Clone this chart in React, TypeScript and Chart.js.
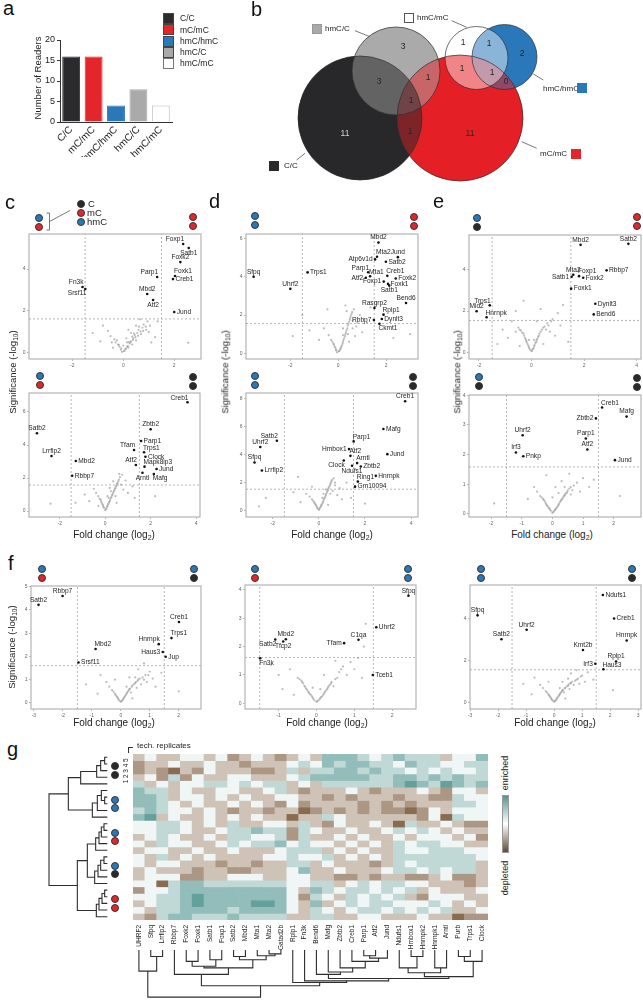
import React, { useEffect, useRef } from 'react';
import { Chart, registerables } from 'chart.js';
Chart.register(...registerables);

const FONT = "'Liberation Sans', Arial, Helvetica, sans-serif";

// ---------------- DATA ----------------
// panel a
const barCategories = ['C/C', 'mC/mC', 'hmC/hmC', 'hmC/C', 'hmC/mC'];
const barValues = [16, 16, 4, 8, 4];
const barTicks = [0, 5, 10, 15, 20];

// panel b (Venn) – region counts
const vennSetNames = ['C/C', 'hmC/C', 'mC/mC', 'hmC/mC', 'hmC/hmC'];
const vennRegionCounts = [3, 3, 1, 1, 1, 11, 11, 1, 1, 2, 1, 1, 0];

// volcano thresholds
const THR_X = 1.5;

// panel c – top
const cTopPts: [string, number, number][] = [['Foxp1', 2.35, 5.19], ['Satb1', 2.57, 5.0], ['Foxk2', 2.24, 4.33], ['Foxk1', 2.03, 3.67], ['Creb1', 1.95, 3.52], ['Parp1', 1.33, 3.62], ['Mbd2', 0.94, 2.81], ['Atf2', 1.17, 2.52], ['Jund', 2.0, 1.95], ['Fn3k', -1.6, 3.14], ['Srsf11', -1.49, 3.05]];
const cTopGray = [-0.05, 0.05, 0.05, 0.1, 0.1, 0.2, -0.1, 0.15, 0.15, 0.3, -0.15, 0.3, 0.2, 0.25, 0.25, 0.45, -0.2, 0.4, 0.3, 0.55, 0.35, 0.4, 0.4, 0.7, -0.3, 0.5, 0.45, 0.85, 0.5, 0.6, 0.55, 0.95, -0.35, 0.65, 0.6, 1.1, 0.7, 0.9, 0.75, 1.2, 0.8, 1.35, -0.5, 0.8, 0.9, 1.1, 0.95, 1.5, 1.05, 1.3, -0.6, 1.05, 0.3, 0.95, 0.5, 1.3, -0.9, 0.55, -1.2, 0.95, 1.25, 0.75, 1.35, 1.5, 0.65, 1.6, 2.55, 0.48, -0.8, 1.3, 0.12, 0.7, 0.2, 1.1, 1.1, 0.5, -0.4, 0.25, 0.0, 0.35,
  0.02, 0.08, 0.08, 0.18, 0.18, 0.33, 0.28, 0.5, 0.38, 0.62, 0.48, 0.75, 0.58, 0.82, 0.68, 1.02, 0.78, 1.05, 0.88, 1.25, -0.08, 0.22, -0.18, 0.38, -0.25, 0.6, -0.45, 0.5, 0.22, 0.52, 0.42, 0.92, 0.62, 1.25, 1.0, 1.0, 0.15, 0.5, 0.35, 0.78];
// panel c – bottom
const cBotPts: [string, number, number][] = [['Creb1', 3.62, 6.59], ['Zbtb2', 2.0, 4.95], ['Parp1', 1.58, 4.24], ['Tfam', 1.27, 3.7], ['Trps1', 1.71, 3.56], ['Clock', 1.77, 3.29], ['Atf2', 1.35, 2.79], ['Mapk8ip3', 1.73, 2.69], ['Jund', 2.26, 2.55], ['Arntl', 1.64, 2.32], ['Mafg', 2.14, 2.24], ['Satb2', -3.0, 4.71], ['Lrrfip2', -2.36, 3.33], ['Mbd2', -1.29, 3.03], ['Rbbp7', -1.45, 2.14]];
const cBotGray = [0, 0.05, 0.05, 0.15, -0.05, 0.2, 0.1, 0.3, -0.1, 0.35, 0.15, 0.45, -0.15, 0.5, 0.2, 0.6, 0.25, 0.8, -0.2, 0.7, 0.3, 0.95, 0.35, 1.1, -0.3, 0.9, 0.4, 1.25, 0.45, 1.4, 0.5, 1.55, -0.4, 1.1, 0.55, 1.7, 0.6, 1.9, 0.65, 2.05, 0.7, 1.6, 0.75, 2.2, -0.5, 1.35, 0.8, 1.3, 0.9, 1.85, 1.0, 1.1, -0.7, 0.6, -0.9, 1.0, 0.2, 1.4, 0.35, 1.8, -1.3, 0.5, -2.4, 0.45, 1.3, 0.8, 1.2, 1.5, 2.2, 0.9, 0.1, 0.9, -0.3, 0.3, 0.5, 0.5,
  0.02, 0.1, 0.08, 0.25, 0.12, 0.4, 0.18, 0.55, 0.22, 0.7, 0.28, 0.85, 0.32, 1.0, 0.38, 1.2, 0.42, 1.35, 0.48, 1.5, 0.52, 1.65, 0.58, 1.8, -0.08, 0.25, -0.12, 0.4, -0.18, 0.6, -0.25, 0.75, 0.15, 0.8, 0.25, 1.2, 0.45, 0.9, 0.62, 2.25];
// panel d – top
const dTopPts: [string, number, number][] = [['Mbd2', 1.68, 5.79], ['Mta2', 1.62, 5.05], ['Atp6v1d', 1.54, 4.91], ['Jund', 2.49, 5.03], ['Satb2', 1.99, 4.79], ['Parp1', 1.25, 4.24], ['Atf2', 1.15, 3.95], ['Mta1', 1.33, 4.03], ['Creb1', 2.05, 4.05], ['Foxk2', 2.4, 3.91], ['Foxp1', 1.9, 3.75], ['Foxk1', 2.08, 3.63], ['Satb1', 2.13, 3.54], ['Bend6', 2.83, 2.63], ['Rasgrp2', 1.51, 2.37], ['Rplp1', 1.89, 2.02], ['Dynlt3', 1.82, 1.79], ['Rbbp7', 1.49, 1.74], ['Ckmt1', 1.72, 1.54], ['Sfpq', -3.53, 4.0], ['Trps1', -1.28, 4.23], ['Uhrf2', -2.0, 3.37]];
const dTopGray = [-0.05, 0.05, 0.05, 0.12, 0.1, 0.25, -0.1, 0.2, 0.15, 0.4, 0.2, 0.6, -0.15, 0.35, 0.25, 0.8, 0.3, 1.0, -0.2, 0.5, 0.35, 1.2, 0.4, 1.45, 0.45, 1.65, -0.3, 0.7, 0.5, 1.85, 0.55, 2.05, 0.6, 1.3, 0.65, 2.3, 0.3, 2.5, 0.35, 2.2, 0.7, 0.9, -0.4, 0.95, 0.8, 1.6, 0.9, 2.0, 1.0, 1.1, -0.6, 1.3, -0.8, 0.7, 1.2, 1.6, 1.35, 2.4, -1.2, 1.2, -1.9, 0.9, 2.3, 0.8, 3.0, 1.0, 0.2, 1.3, 0.45, 0.6, -1.5, 2.0, -0.45, 2.3,
  0.02, 0.1, 0.08, 0.2, 0.12, 0.32, 0.18, 0.5, 0.22, 0.7, 0.28, 0.9, 0.32, 1.1, 0.38, 1.3, 0.42, 1.55, 0.48, 1.75, 0.52, 1.95, 0.58, 2.15, -0.08, 0.15, -0.12, 0.3, -0.18, 0.45, -0.25, 0.6, 0.2, 0.95, 0.4, 1.0, 0.6, 1.7, 0.75, 1.4];
// panel d – bottom
const dBotPts: [string, number, number][] = [['Creb1', 3.74, 7.81], ['Mafg', 2.8, 5.83], ['Parp1', 1.51, 4.94], ['Hmbox1', 1.31, 4.39], ['Atf2', 1.37, 3.91], ['Jund', 2.97, 4.03], ['Arntl', 1.66, 3.39], ['Clock', 1.08, 3.58], ['Zbtb2', 1.82, 3.15], ['Ndufs1', 1.44, 3.2], ['Hnrnpk', 2.47, 2.48], ['Ring1', 1.69, 2.07], ['Gm10094', 1.57, 1.71], ['Satb2', -1.82, 4.99], ['Uhrf2', -2.54, 4.54], ['Sfpq', -2.79, 3.43], ['Lrrfip2', -2.47, 2.86]];
const dBotGray = [0, 0.05, 0.05, 0.2, -0.05, 0.15, 0.1, 0.35, -0.1, 0.3, 0.15, 0.5, -0.15, 0.45, 0.2, 0.7, 0.25, 0.9, -0.2, 0.6, 0.3, 1.1, 0.35, 1.3, -0.3, 0.8, 0.4, 1.5, 0.45, 1.7, -0.4, 1.0, 0.5, 1.9, 0.55, 2.1, 0.6, 1.4, 0.65, 2.3, 0.7, 1.8, -0.55, 1.2, 0.8, 1.1, 0.9, 1.6, 1.0, 0.8, -0.8, 0.6, -1.1, 1.3, -0.9, 2.4, 0.2, 1.2, 1.2, 2.0, 1.4, 0.9, -2.3, 0.9, -2.6, 0.3, 2.0, 0.5, 0.4, 0.4, -0.3, 1.7,
  0.02, 0.1, 0.08, 0.28, 0.12, 0.42, 0.18, 0.6, 0.22, 0.8, 0.28, 1.0, 0.32, 1.2, 0.38, 1.4, 0.42, 1.6, 0.48, 1.8, 0.52, 2.0, 0.58, 2.2, -0.08, 0.2, -0.12, 0.38, -0.18, 0.52, -0.25, 0.7, 0.15, 0.9, 0.3, 1.5, 0.5, 1.2, 0.7, 2.0];
// panel e – top
const eTopPts: [string, number, number][] = [['Mbd2', 1.87, 5.22], ['Satb2', 3.69, 5.27], ['Mta2', 1.59, 3.77], ['Satb1', 1.53, 3.67], ['Foxp1', 1.81, 3.7], ['Foxk2', 1.97, 3.62], ['Rbbp7', 2.86, 3.98], ['Foxk1', 1.51, 3.09], ['Dynlt3', 2.43, 2.36], ['Bend6', 2.37, 1.84], ['Trps1', -1.59, 2.28], ['Mid2', -2.09, 1.99], ['Hnrnpk', -1.71, 1.7]];
const eTopGray = [0, 0.05, 0.05, 0.15, -0.05, 0.12, 0.1, 0.3, -0.1, 0.25, 0.15, 0.45, -0.15, 0.4, -0.2, 0.55, 0.2, 0.6, -0.25, 0.7, 0.25, 0.75, -0.3, 0.9, 0.3, 0.9, -0.4, 1.05, 0.4, 1.1, -0.5, 1.2, 0.5, 1.25, -0.6, 1.0, 0.6, 1.4, 0.7, 1.0, 0.8, 1.6, -0.75, 1.5, 0.9, 0.8, 1.0, 1.9, 1.1, 1.3, -0.9, 0.7, -1.1, 1.1, -0.6, 2.0, 0.35, 2.1, 1.2, 2.3, -0.3, 2.5, 1.4, 0.5, 0.45, 0.4, -0.45, 0.3, 0.2, 1.5, -1.3, 0.4,
  0.02, 0.08, 0.08, 0.2, 0.12, 0.35, 0.18, 0.5, 0.22, 0.65, 0.28, 0.8, 0.35, 1.0, -0.08, 0.18, -0.12, 0.32, -0.18, 0.48, -0.22, 0.62, -0.28, 0.8, -0.35, 0.95, 0.45, 1.2, 0.55, 1.1, -0.45, 1.1, 0.1, 0.6, -0.1, 0.6, 0.65, 1.3, 0.75, 1.5];
// panel e – bottom
const eBotPts: [string, number, number][] = [['Creb1', 1.62, 3.59], ['Mafg', 2.42, 3.28], ['Zbtb2', 1.42, 3.22], ['Parp1', 1.09, 2.54], ['Atf2', 1.14, 2.17], ['Jund', 2.04, 1.81], ['Uhrf2', -0.97, 2.65], ['Irf3', -1.19, 2.07], ['Pnkp', -0.95, 1.94]];
const eBotGray = [0, 0.03, 0.05, 0.08, -0.05, 0.1, 0.1, 0.15, -0.1, 0.18, 0.15, 0.22, -0.15, 0.25, 0.2, 0.3, -0.2, 0.32, 0.25, 0.4, -0.25, 0.42, 0.3, 0.48, -0.3, 0.5, 0.35, 0.55, 0.4, 0.62, -0.4, 0.6, 0.45, 0.7, 0.5, 0.78, -0.5, 0.75, 0.55, 0.85, 0.6, 0.65, 0.7, 0.95, -0.6, 0.9, 0.8, 1.05, 0.9, 0.75, 1.0, 1.2, -0.8, 0.5, 0.1, 0.9, 0.3, 1.1, 0.55, 1.35, 1.2, 0.9, 1.35, 1.15, -1.9, 0.35, 2.2, 0.6, -0.2, 1.3, 0.0, 0.55,
  0.02, 0.05, 0.08, 0.12, 0.12, 0.18, 0.18, 0.26, 0.22, 0.34, 0.28, 0.44, 0.32, 0.5, 0.38, 0.6, 0.42, 0.66, 0.48, 0.72, -0.08, 0.14, -0.12, 0.2, -0.18, 0.28, -0.22, 0.36, -0.28, 0.46, -0.35, 0.55, 0.6, 0.9, 0.65, 0.8, 0.2, 0.7, 0.4, 0.9];
// panel f – left
const fLPts: [string, number, number][] = [['Rbbp7', -2.01, 4.6], ['Satb2', -2.84, 4.22], ['Mbd2', -0.87, 2.32], ['Srsf11', -1.46, 1.74], ['Creb1', 2.01, 3.48], ['Trps1', 1.75, 2.79], ['Hnrnpk', 1.31, 2.53], ['Haus3', 1.45, 2.19], ['Jup', 1.55, 1.99]];
const fLGray = [0, 0.05, 0.05, 0.1, -0.05, 0.1, 0.1, 0.2, -0.1, 0.2, 0.15, 0.3, -0.15, 0.3, 0.2, 0.4, 0.25, 0.5, -0.2, 0.4, 0.3, 0.6, 0.35, 0.45, 0.4, 0.75, -0.3, 0.55, 0.5, 0.85, 0.55, 0.65, 0.6, 1.0, 0.7, 0.8, 0.75, 1.1, -0.4, 0.7, 0.85, 1.2, 0.9, 0.9, 1.0, 1.35, 1.1, 1.05, -0.5, 0.9, 1.2, 0.7, 0.3, 1.1, 0.6, 1.45, -0.8, 0.4, -1.2, 0.8, 1.4, 1.3, 0.8, 1.7, -0.2, 1.0, 2.0, 0.5, 0.4, 0.2, -0.7, 1.2,
  0.02, 0.08, 0.08, 0.15, 0.12, 0.25, 0.18, 0.35, 0.22, 0.45, 0.28, 0.55, 0.32, 0.62, 0.38, 0.7, 0.45, 0.8, 0.52, 0.9, 0.58, 0.95, 0.65, 1.05, -0.08, 0.15, -0.12, 0.25, -0.18, 0.35, -0.25, 0.48, 0.8, 1.0, 0.95, 1.2, 0.2, 0.7, 0.5, 1.1];
// panel f – middle
const fMPts: [string, number, number][] = [['Sfpq', 2.43, 3.79], ['Uhrf2', 1.58, 2.68], ['C1qa', 1.11, 2.24], ['Tfam', 0.73, 2.12], ['Satb2', -1.09, 2.25], ['Mbd2', -0.81, 2.26], ['Tfcp2', -0.88, 2.18], ['Fn3k', -1.49, 1.59], ['Tceb1', 1.49, 1.0]];
const fMGray = [0, 0.05, 0.05, 0.1, -0.05, 0.1, 0.1, 0.18, -0.1, 0.2, 0.15, 0.25, -0.15, 0.3, 0.2, 0.35, -0.2, 0.38, 0.25, 0.45, -0.25, 0.48, 0.3, 0.55, -0.3, 0.58, 0.35, 0.65, -0.35, 0.7, 0.4, 0.75, -0.4, 0.8, 0.45, 0.6, -0.5, 0.9, 0.55, 0.9, 0.6, 1.1, 0.7, 1.3, 0.8, 1.0, 0.9, 1.45, 1.0, 1.2, 1.1, 1.6, 1.2, 0.9, -0.7, 1.2, -0.9, 0.5, -1.2, 1.35, -1.0, 1.0, 0.2, 1.0, 1.25, 2.0, 1.3, 2.8, 0.5, 1.5, -0.6, 0.3,
  0.02, 0.08, 0.08, 0.14, 0.12, 0.22, 0.18, 0.3, 0.22, 0.4, 0.28, 0.5, 0.32, 0.6, 0.38, 0.7, -0.08, 0.15, -0.12, 0.25, -0.18, 0.33, -0.22, 0.42, -0.28, 0.52, -0.32, 0.62, -0.38, 0.75, -0.45, 0.85, 0.1, 0.5, -0.1, 0.55, 0.5, 0.85, 0.65, 1.2];
// panel f – right
const fRPts: [string, number, number][] = [['Ndufs1', 1.74, 5.14], ['Sfpq', -2.73, 4.17], ['Creb1', 2.14, 4.02], ['Uhrf2', -0.98, 3.48], ['Satb2', -1.88, 3.03], ['Hnrnpk', 2.59, 2.97], ['Kmt2b', 1.03, 2.52], ['Rplp1', 2.21, 1.97], ['Irf3', 1.47, 1.86], ['Haus3', 1.76, 1.6]];
const fRGray = [0, 0.05, 0.05, 0.1, -0.05, 0.1, 0.1, 0.2, -0.1, 0.2, 0.15, 0.3, -0.15, 0.3, 0.2, 0.4, 0.25, 0.5, -0.2, 0.4, 0.3, 0.6, 0.35, 0.5, 0.4, 0.7, -0.3, 0.55, 0.5, 0.8, 0.55, 0.65, 0.6, 0.95, 0.7, 0.85, 0.75, 1.05, -0.4, 0.7, 0.85, 1.15, 0.9, 0.9, 1.0, 1.3, 1.1, 1.0, -0.5, 0.85, 1.2, 1.45, 0.3, 1.0, 0.6, 1.4, -0.8, 0.4, -1.1, 0.9, 1.4, 1.1, 0.8, 1.55, -0.2, 1.0, 2.1, 0.6, 0.4, 0.2, -0.7, 1.2,
  0.02, 0.08, 0.08, 0.15, 0.12, 0.25, 0.18, 0.35, 0.22, 0.45, 0.28, 0.55, 0.32, 0.62, 0.38, 0.7, 0.45, 0.78, 0.52, 0.88, 0.58, 0.92, 0.65, 1.0, -0.08, 0.15, -0.12, 0.25, -0.18, 0.35, -0.25, 0.48, 0.8, 1.1, 0.95, 1.25, 0.2, 0.7, 0.5, 1.15];

// panel g – heatmap
const geneLabels = ['UHRF2', 'Sfpq', 'Lrrfip2', 'Rbbp7', 'Foxk2', 'Foxk1', 'Satb1', 'Foxp1', 'Satb2', 'Mbd2', 'Mta1', 'Mta2', 'Gatad2b', 'Rplp1', 'Fn3k', 'Bend6', 'Mafg', 'Zbtb2', 'Creb1', 'Parp1', 'Atf2', 'Jund', 'Ndufs1', 'Hmbox1', 'Hnrnpk2', 'Hnrnpk1', 'Arntl', 'Purb', 'Trps1', 'Clock'];
const heatRows = [
  [-1, 0, -1, -1, 0, 0, -1, 0, -2, -1, 0, -1, -2, -1, 0, -1, 2, 2, 2, 1, 0, 1, 2, 1, 1, 1, -1, 0, 0, 2],
  [-2, -1, -1, 0, -1, -1, 0, -1, -1, -2, -1, -1, -1, 0, 1, 0, 2, 1, 2, 2, 1, 1, 0, 2, 1, 1, 0, 0, 1, 1],
  [-2, -1, -2, -3, -1, -2, 0, -1, -1, -1, -2, -2, -1, 1, -1, 1, 1, 2, 2, 1, 2, 1, 1, 0, 1, 0, 1, 0, 0, 1],
  [-1, 0, -2, 1, -2, 0, -1, -1, 0, 0, -1, -1, -1, 0, 1, 2, 2, 2, 2, 2, 1, 1, 2, 2, 1, 2, 1, 2, 1, 1],
  [1, -1, 0, -1, 0, 0, 1, 1, 0, 1, 0, 1, 1, -1, 0, -1, 1, 1, 1, 1, 1, 1, 2, 3, 2, 1, 3, 2, 1, 2],
  [2, 1, 1, -1, 0, -1, -1, 0, 0, -1, -1, 0, 1, -1, -2, -1, -1, -1, 0, -1, -2, -1, -1, -1, 0, -1, -2, 0, 0, -1],
  [2, 2, 1, -1, 0, 0, -1, 0, -1, 0, -1, -1, 0, 0, -1, -1, -2, -1, -2, -1, -1, -1, -2, -1, -1, -2, -2, 1, 0, 0],
  [2, 2, 1, 0, -1, 0, -1, -1, 0, -1, 0, -1, -2, 0, -2, -1, -1, -1, -1, -2, -1, -2, -1, -2, -1, -1, -1, 1, 1, 0],
  [1, 2, 1, 0, 0, -1, 0, -1, -2, -1, -1, -2, -1, -1, -3, -2, -1, -2, -1, -2, -1, -2, -2, -3, -2, 0, -1, 0, 0, 0],
  [2, 3, -1, 0, -1, -1, 0, -1, 0, -1, 0, -1, -1, -3, -1, -1, 1, 0, -1, -1, -1, -1, -1, -1, -2, 0, -3, 1, 0, 0],
  [0, 0, 1, 1, 0, -1, 0, -1, 1, -1, -1, 0, 0, -1, 1, -1, -2, 0, -1, -1, 0, -1, -3, 1, -1, -1, 0, -1, -2, -2],
  [0, 0, 1, 1, 0, -1, -1, 0, 1, 1, 2, 1, 1, -2, 1, 0, -1, -1, 0, -1, -1, 0, 1, 0, 1, 0, -1, 0, -1, -1],
  [-1, 0, 1, 0, -1, -1, 0, -1, 1, 1, 0, 0, 1, -2, 1, -1, -1, 0, -1, 0, -1, -1, 0, -1, 0, 0, 0, -1, 0, -2],
  [0, -1, 1, 0, 0, -1, -1, 0, 1, 0, 1, 1, 2, 0, 1, 0, 0, -1, 0, -1, 0, -1, 1, 0, 1, 1, 0, 0, -1, -1],
  [-1, 0, 0, -1, -1, 0, -1, -1, 0, -1, -1, -1, 0, 1, 1, 1, -1, 0, -1, 0, -1, -1, 1, 0, 0, 1, 1, 1, 0, 0],
  [0, -1, 1, -1, 0, -1, 0, -1, -1, -1, -1, 0, 0, 1, 0, 0, 1, -1, 0, -1, 0, -1, 1, 1, 1, 1, 1, 1, 1, 0],
  [0, -1, 0, 0, -1, -1, -1, -2, -1, -1, -2, -1, -1, 1, 1, -1, 0, -1, -1, -1, -2, -1, 1, 0, 1, 1, 1, 1, 1, -1],
  [-1, 0, -1, -1, -1, -2, -1, -1, -2, -2, -1, -1, -1, 0, 2, -1, -1, 0, -1, -1, -1, 0, 1, 1, 0, 1, 0, 1, 1, -1],
  [-1, 0, 0, 0, -2, -2, -1, -1, 0, 0, 0, -1, -1, 0, 0, -1, -1, -2, -2, -1, -2, -1, -1, -2, -2, -1, 0, -2, -2, -1],
  [0, 0, -3, 1, 2, 2, 1, 1, 1, 1, 1, 1, 1, 0, 0, 1, 1, -1, 0, 1, 0, 1, 1, 0, 0, -1, -1, -1, -2, -1],
  [-2, 0, 0, 1, 2, 2, 2, 2, 2, 2, 2, 2, 2, 0, -1, 2, 1, 0, 1, 1, 0, 1, 0, 1, -1, 0, -1, -1, -1, 0],
  [0, 0, 1, 1, 2, 3, 2, 2, 2, 2, 2, 2, 2, 0, -2, 1, 0, -1, 1, 0, 1, 0, 1, -1, -2, 0, 0, 0, -1, -1],
  [-1, 0, 1, 1, 2, 3, 2, 2, 2, 2, 3, 3, 2, 0, -1, 2, -1, 0, 1, 0, 1, 1, 0, 0, 0, 1, 0, -1, 0, -1],
  [0, -1, 1, 1, 2, 2, 2, 2, 1, 2, 2, 2, 2, 0, -1, 1, 0, -1, 0, 1, 1, 0, 1, 0, 1, 0, 1, -1, -1, 0],
  [-1, -2, 1, 2, 2, 1, 1, 1, 2, 1, 1, 1, 1, -1, -1, 1, 1, -1, -1, 0, 0, -1, -1, -1, 0, -1, -1, -3, -2, -2],
];
// dendrograms: [left, right, linkage height]
const colTree: any = [[0, [1, 2, 20], 65], [[3, [[[4, 5, 35], [6, 7, 30], 50], [[8, 9, 20], [10, [11, 12, 12], 18], 30], 55], 75], [13, [14, [[15, [16, [17, [18, [[19, 20, 18], 21, 25], 35], 55], 68], 75], [[[22, [23, 24, 20], 55], [25, 26, 55], 70], [[27, 28, 20], 29, 35], 82], 88], 95], 100], 110], 145];
const rowTree: any = [[[[[[0, 1, 8], 2, 20], 3, 32], 4, 80], [[[5, [6, 7, 8], 18], 8, 30], 9, 45], 117], [[[[[[10, 11, 10], 12, 18], 13, 25], 14, 35], [[[[15, 16, 10], 17, 20], 18, 28], 19, 38], 60], [[[[20, 21, 8], 22, 16], 23, 25], 24, 33], 90], 175];

// ---------------- STYLE / LAYOUT ----------------
const C_DARK = '#2a2a2c', C_RED = '#e3262b', C_BLUE = '#2a78b8', C_GRAY = '#a9a9a9';
const barColors = ['#2b2b2d', '#e3262b', '#2a78b8', '#aaaaaa', '#ffffff'];
const barBorders = ['#2b2b2d', '#e3262b', '#2a78b8', '#aaaaaa', '#bdbdbd'];

const VENN_CIRCLES = [
  { cx: 360, cy: 118, r: 62, rgb: [40, 40, 42] },
  { cx: 396, cy: 71, r: 44, rgb: [170, 170, 170] },
  { cx: 460, cy: 118, r: 63, rgb: [228, 32, 38] },
  { cx: 476.5, cy: 58, r: 31.5, rgb: [255, 255, 255] },
  { cx: 504.5, cy: 57, r: 32.5, rgb: [42, 120, 186] },
];
const VENN_COUNT_POS = [[403, 47, 0], [379, 82, 0], [428, 78, 0], [411, 101, 0], [410, 132, 0], [345, 134, 1], [470, 134, 0], [463, 43, 0], [489, 44, 0], [522, 54, 0], [462, 69, 0], [492, 73, 0], [506, 82, 0]];
const VENN_LEADERS = [[[355, 30.7], [370, 36.7]], [[451.7, 20.7], [466.7, 27.3]], [[533.3, 74], [543.3, 80]], [[521.7, 141.7], [536.7, 148.3]], [[305, 153.3], [296.7, 160]]];

const rgba = (c: number[], a: number) => `rgba(${c[0]},${c[1]},${c[2]},${a})`;

const baseOpts = {
  animation: false, responsive: false, maintainAspectRatio: false, events: [],
  plugins: { legend: { display: false }, tooltip: { enabled: false } },
};

// ---------------- plugins ----------------
const framePlugin = {
  id: 'frame',
  beforeDatasetsDraw(chart: any) {
    const { ctx, chartArea: a } = chart;
    ctx.save();
    ctx.strokeStyle = '#b4b4b4';
    ctx.lineWidth = 1.2;
    ctx.strokeRect(a.left, a.top, a.right - a.left, a.bottom - a.top);
    ctx.restore();
  },
};

function labelPlugin(names: string[], places: string[]) {
  return {
    id: 'ptLabels',
    afterDatasetsDraw(chart: any) {
      const meta = chart.getDatasetMeta(0);
      const ctx = chart.ctx;
      ctx.save();
      ctx.font = `6.6px ${FONT}`;
      ctx.fillStyle = '#1e1e1e';
      ctx.textBaseline = 'middle';
      meta.data.forEach((el: any, i: number) => {
        let x = el.x, y = el.y, align: any = 'left';
        switch (places[i] || 'r') {
          case 'r': x += 2.5; break;
          case 'l': x -= 2.5; align = 'right'; break;
          case 't': y -= 5; align = 'center'; break;
          case 'b': y += 5; align = 'center'; break;
          case 'tl': x += 1; y -= 4.5; align = 'right'; break;
          case 'tr': x -= 1; y -= 4.5; break;
          case 'bl': x += 1; y += 4.5; align = 'right'; break;
          case 'br': x -= 1; y += 4.5; break;
        }
        ctx.textAlign = align;
        ctx.fillText(names[i], x, y);
      });
      ctx.restore();
    },
  };
}

const vennCountPlugin = {
  id: 'vennCounts',
  afterDatasetsDraw(chart: any) {
    const { ctx, scales } = chart;
    ctx.save();
    ctx.font = `8.5px ${FONT}`;
    ctx.textAlign = 'center';
    ctx.textBaseline = 'middle';
    vennRegionCounts.forEach((c, i) => {
      const [px, py, light] = VENN_COUNT_POS[i];
      ctx.fillStyle = light ? '#d4d4d4' : '#262626';
      ctx.fillText(String(c), scales.x.getPixelForValue(px), scales.y.getPixelForValue(py));
    });
    ctx.restore();
  },
};

// ---------------- chart builders ----------------
type VSpec = { box: number[]; xr: number[]; yr: number[]; xt: number[]; yt: number[]; gray: number[]; pts: [string, number, number][]; places: string[]; thrY: number };

function volcanoConfig(s: VSpec) {
  const gray: any[] = [];
  for (let i = 0; i < s.gray.length; i += 2) gray.push({ x: s.gray[i], y: s.gray[i + 1] });
  const lab = s.pts.map((p) => ({ x: p[1], y: p[2] }));
  const dash = { type: 'line', borderColor: '#a3a3a3', borderWidth: 0.8, borderDash: [2, 2], pointRadius: 0, fill: false };
  const axis = (ticks: number[], isX: boolean) => ({
    type: 'linear',
    min: isX ? s.xr[0] : s.yr[0],
    max: isX ? s.xr[1] : s.yr[1],
    afterBuildTicks: (sc: any) => { sc.ticks = ticks.map((v) => ({ value: v })); },
    afterFit: (sc: any) => {
      if (isX) { sc.height = 12; } else { sc.width = 16; }
      sc.paddingLeft = 0; sc.paddingRight = 0; sc.paddingTop = 0; sc.paddingBottom = 0;
    },
    grid: { display: true, drawOnChartArea: false, drawTicks: true, tickLength: 2, color: '#aaa', lineWidth: 0.8 },
    border: { display: false },
    ticks: { font: { size: 5, family: FONT }, color: '#666', padding: 1.5, maxRotation: 0, minRotation: 0, autoSkip: false, callback: (v: any) => String(v) },
  });
  return {
    type: 'scatter',
    data: {
      datasets: [
        { data: lab, pointRadius: 1.3, backgroundColor: '#111', borderWidth: 0 },
        { data: gray, pointRadius: 1.1, backgroundColor: 'rgba(160,160,160,0.7)', borderWidth: 0 },
        { ...dash, data: [{ x: -THR_X, y: s.yr[0] }, { x: -THR_X, y: s.yr[1] }] },
        { ...dash, data: [{ x: THR_X, y: s.yr[0] }, { x: THR_X, y: s.yr[1] }] },
        { ...dash, data: [{ x: s.xr[0], y: s.thrY }, { x: s.xr[1], y: s.thrY }] },
      ],
    },
    options: {
      ...baseOpts,
      layout: { autoPadding: false, padding: { top: 5, right: 8, left: 0, bottom: 0 } },
      scales: { x: axis(s.xt, true), y: axis(s.yt, false) },
    },
    plugins: [framePlugin, labelPlugin(s.pts.map((p) => p[0]), s.places)],
  };
}

function barConfig() {
  return {
    type: 'bar',
    data: {
      labels: barCategories,
      datasets: [{ data: barValues, backgroundColor: barColors, borderColor: barBorders, borderWidth: 1, barPercentage: 0.8, categoryPercentage: 1 }],
    },
    options: {
      ...baseOpts,
      layout: { autoPadding: false, padding: { top: 10, right: 8, left: 0, bottom: 0 } },
      scales: {
        x: {
          grid: { display: false, drawTicks: false },
          border: { display: true, color: '#333', width: 1 },
          ticks: { font: { size: 10, family: FONT }, color: '#222', minRotation: 45, maxRotation: 45, padding: 2, autoSkip: false },
          afterFit: (sc: any) => { sc.height = 35; sc.paddingLeft = 0; sc.paddingRight = 0; },
        },
        y: {
          min: 0, max: 20,
          afterBuildTicks: (sc: any) => { sc.ticks = barTicks.map((v) => ({ value: v })); },
          afterFit: (sc: any) => { sc.width = 40; sc.paddingTop = 0; sc.paddingBottom = 0; },
          grid: { display: true, drawOnChartArea: false, tickLength: 3, color: '#333' },
          border: { display: true, color: '#333', width: 1 },
          ticks: { font: { size: 9, family: FONT }, color: '#222', padding: 2 },
        },
      },
    },
  };
}

function vennConfig() {
  const ds = (i: number, fill: string, border?: string) => ({
    type: 'bubble',
    data: [{ x: VENN_CIRCLES[i].cx, y: VENN_CIRCLES[i].cy, r: VENN_CIRCLES[i].r }],
    backgroundColor: fill,
    borderColor: border || 'rgba(0,0,0,0)',
    borderWidth: border ? 0.8 : 0,
    clip: false,
  });
  const leaders = VENN_LEADERS.map((seg) => ({
    type: 'line', data: seg.map(([x, y]) => ({ x, y })), borderColor: '#555', borderWidth: 0.8, pointRadius: 0, fill: false, clip: false,
  }));
  const C = VENN_CIRCLES;
  const datasets: any[] = [
    ...leaders,
    ...C.map((_, i) => ds(i, 'rgba(0,0,0,0)', 'rgba(45,45,45,0.85)')),
    ds(3, rgba(C[3].rgb, 0.45)),
    ds(0, rgba(C[0].rgb, 0.55)),
    ds(1, rgba(C[1].rgb, 0.5)),
    ds(2, rgba(C[2].rgb, 0.55)),
    ds(4, rgba(C[4].rgb, 1)),
    ds(2, rgba(C[2].rgb, 1)),
    ds(1, rgba(C[1].rgb, 1)),
    ds(0, rgba(C[0].rgb, 1)),
  ];
  return {
    type: 'bubble',
    data: { datasets },
    options: {
      ...baseOpts,
      layout: { autoPadding: false, padding: 0 },
      scales: {
        x: { type: 'linear', display: false, min: 250, max: 643 },
        y: { type: 'linear', display: false, min: 0, max: 185, reverse: true },
      },
    },
    plugins: [vennCountPlugin],
  };
}

const TEAL = [84, 150, 145], BROWN = [124, 90, 60];
const LEVELS = [0.09, 0.37, 0.63, 0.9];
function heatColor(v: number) {
  const t = LEVELS[Math.min(3, Math.abs(v))];
  const c = v >= 0 ? TEAL : BROWN;
  return `rgb(${Math.round(255 + (c[0] - 255) * t)},${Math.round(255 + (c[1] - 255) * t)},${Math.round(255 + (c[2] - 255) * t)})`;
}

function heatConfig() {
  return {
    type: 'bar',
    data: {
      labels: geneLabels,
      datasets: heatRows.map((row) => ({ data: row.map(() => 1), backgroundColor: row.map(heatColor), borderWidth: 0, barPercentage: 1, categoryPercentage: 1 })),
    },
    options: {
      ...baseOpts,
      layout: { autoPadding: false, padding: 0 },
      scales: {
        x: {
          stacked: true,
          grid: { display: false, drawTicks: false },
          border: { display: false },
          ticks: { font: { size: 6.5, family: FONT }, color: '#222', minRotation: 90, maxRotation: 90, padding: 5, autoSkip: false },
          afterFit: (sc: any) => { sc.height = 34; sc.paddingLeft = 0; sc.paddingRight = 0; },
        },
        y: { stacked: true, display: false, min: 0, max: heatRows.length, reverse: true },
      },
    },
  };
}

function dendroSegments(node: any, out: number[][][]): { p: number; h: number } {
  if (typeof node === 'number') return { p: node, h: 0 };
  const a = dendroSegments(node[0], out);
  const b = dendroSegments(node[1], out);
  out.push([[a.p, a.h], [a.p, node[2]], [b.p, node[2]], [b.p, b.h]]);
  return { p: (a.p + b.p) / 2, h: node[2] };
}

function dendroConfig(tree: any, horizontal: boolean, xr: number[], yr: number[], xRev: boolean, yRev: boolean) {
  const segs: number[][][] = [];
  dendroSegments(tree, segs);
  return {
    type: 'scatter',
    data: {
      datasets: segs.map((sg) => ({
        data: sg.map(([p, h]) => (horizontal ? { x: p, y: h } : { x: h, y: p })),
        showLine: true, borderColor: '#2e2e2e', borderWidth: 1.1, pointRadius: 0, fill: false,
      })),
    },
    options: {
      ...baseOpts,
      layout: { autoPadding: false, padding: 0 },
      scales: {
        x: { type: 'linear', display: false, min: xr[0], max: xr[1], reverse: xRev },
        y: { type: 'linear', display: false, min: yr[0], max: yr[1], reverse: yRev },
      },
    },
  };
}

// ---------------- components ----------------
function ChartBox({ x, y, w, h, build }: any) {
  const ref = useRef<HTMLCanvasElement>(null);
  useEffect(() => {
    const chart = new Chart(ref.current as any, build());
    return () => chart.destroy();
  }, []);
  return <canvas ref={ref} width={w} height={h} style={{ position: 'absolute', left: x, top: y, width: w, height: h }} />;
}

function Volcano(s: VSpec) {
  const [L, T, W, H] = s.box;
  return <ChartBox x={L - 16} y={T - 5} w={W + 24} h={H + 17} build={() => volcanoConfig(s)} />;
}

const Txt = ({ x, y, s, children, style }: any) => (
  <div style={{ position: 'absolute', left: x, top: y - 0.5 * s, fontSize: s, lineHeight: 1, whiteSpace: 'nowrap', ...style }}>{children}</div>
);
const VTxt = ({ x, y, s, children }: any) => (
  <div style={{ position: 'absolute', left: x, top: y, fontSize: s, lineHeight: 1, whiteSpace: 'nowrap', transform: 'translate(-50%,-50%) rotate(-90deg)' }}>{children}</div>
);
const CTxt = ({ x, y, s, children }: any) => (
  <div style={{ position: 'absolute', left: x, top: y, fontSize: s, lineHeight: 1, whiteSpace: 'nowrap', transform: 'translate(-50%,-50%)' }}>{children}</div>
);
const Letter = ({ x, y, c }: any) => (
  <div style={{ position: 'absolute', left: x, top: y, fontSize: 20, lineHeight: 1, color: '#111' }}>{c}</div>
);
const Dot = ({ x, y, c, d = 8 }: any) => (
  <div style={{ position: 'absolute', left: x - d / 2, top: y - d / 2, width: d, height: d, borderRadius: '50%', background: c, boxSizing: 'border-box', border: '0.8px solid #333' }} />
);
const Pair = ({ x, y, a, b }: any) => (<><Dot x={x} y={y} c={a} /><Dot x={x} y={y + 8.5} c={b} /></>);
const Sq = ({ x, y, c, s = 11, bc }: any) => (
  <div style={{ position: 'absolute', left: x, top: y, width: s, height: s, background: c, boxSizing: 'border-box', border: `1px solid ${bc || '#555'}` }} />
);
const sub = { fontSize: '70%', verticalAlign: '-0.3em', lineHeight: 0 };
const SigTitle = ({ x, y }: any) => <VTxt x={x} y={y} s={9.5}>Significance (-log<span style={sub}>10</span>)</VTxt>;
const FoldTitle = ({ x, y }: any) => <CTxt x={x} y={y} s={10}>Fold change (log<span style={sub}>2</span>)</CTxt>;

const VOLCANOS: VSpec[] = [
  { box: [29, 234, 172, 125], xr: [-3.7, 3.05], yr: [-0.29, 5.67], xt: [-2, 0, 2], yt: [0, 2, 4], gray: cTopGray, pts: cTopPts, places: ['tl', 'b', 't', 'tr', 'r', 'tl', 't', 'b', 'r', 'tl', 'bl'], thrY: 1.62 },
  { box: [29, 393, 171, 124], xr: [-3.35, 4.17], yr: [-0.36, 7.15], xt: [-2, 0, 2, 4], yt: [0, 2, 4, 6], gray: cBotGray, pts: cBotPts, places: ['tl', 't', 'r', 'tl', 'tr', 'r', 'tl', 'tr', 'r', 'b', 'br', 't', 't', 'r', 'r'], thrY: 1.58 },
  { box: [246, 234, 172, 125], xr: [-3.85, 3.33], yr: [-0.3, 6.24], xt: [-2, 0, 2], yt: [0, 2, 4, 6], gray: dTopGray, pts: dTopPts, places: ['t', 'tr', 'l', 't', 'r', 'tl', 'l', 'tr', 'tr', 'r', 'l', 'r', 'b', 't', 't', 'tr', 'r', 'l', 'br', 't', 'r', 't'], thrY: 1.55 },
  { box: [246, 393, 172, 124], xr: [-3.16, 4.3], yr: [-0.46, 8.4], xt: [-2, 0, 2, 4], yt: [0, 2, 4, 6, 8], gray: dBotGray, pts: dBotPts, places: ['t', 'r', 'tr', 'l', 'tr', 'r', 'tr', 'bl', 'r', 'b', 'r', 'tr', 'r', 'tl', 't', 't', 'r'], thrY: 1.53 },
  { box: [469, 235, 172, 124], xr: [-2.38, 4.17], yr: [-0.33, 5.7], xt: [-2, 0, 2, 4], yt: [0, 2, 4], gray: eTopGray, pts: eTopPts, places: ['t', 't', 't', 'l', 'tr', 'r', 'r', 'r', 'r', 'r', 'tl', 't', 'tr'], thrY: 1.55 },
  { box: [469, 395, 172, 122], xr: [-2.72, 2.89], yr: [-0.11, 4.01], xt: [-2, -1, 0, 1, 2], yt: [0, 1, 2, 3, 4], gray: eBotGray, pts: eBotPts, places: ['tr', 't', 'l', 't', 't', 'r', 't', 't', 'r'], thrY: 1.58 },
  { box: [31, 586, 170, 123], xr: [-3.1, 2.77], yr: [-0.26, 5.03], xt: [-3, -2, -1, 0, 1, 2], yt: [0, 1, 2, 3, 4, 5], gray: fLGray, pts: fLPts, places: ['t', 't', 'tr', 'r', 't', 'tr', 'tl', 'l', 'r'], thrY: 1.6 },
  { box: [245, 585, 171, 124], xr: [-1.89, 2.63], yr: [-0.2, 4.17], xt: [-1, 0, 1, 2], yt: [0, 1, 2, 3, 4], gray: fMGray, pts: fMPts, places: ['t', 'r', 't', 'l', 'bl', 't', 'b', 'br', 'r'], thrY: 1.61 },
  { box: [470, 585, 171, 124], xr: [-3.0, 3.1], yr: [-0.3, 5.62], xt: [-3, -2, -1, 0, 1, 2, 3], yt: [0, 2, 4], gray: fRGray, pts: fRPts, places: ['r', 't', 'r', 't', 't', 't', 't', 't', 'l', 'tr'], thrY: 1.57 },
];

const ICONS = [
  [39, 218, C_BLUE, C_RED], [193, 217, C_RED, C_RED],
  [40, 376, C_BLUE, C_RED], [193, 377, C_DARK, C_DARK],
  [255, 216, C_BLUE, C_BLUE], [414, 217, C_RED, C_RED],
  [255, 376, C_BLUE, C_BLUE], [413, 377, C_DARK, C_DARK],
  [477, 218, C_BLUE, C_DARK], [637, 217, C_RED, C_RED],
  [479, 377, C_BLUE, C_DARK], [637, 378, C_DARK, C_DARK],
  [42, 569, C_BLUE, C_RED], [194, 569, C_BLUE, C_DARK],
  [255, 569, C_BLUE, C_RED], [408, 569, C_BLUE, C_BLUE],
  [481, 569, C_BLUE, C_BLUE], [632, 569, C_BLUE, C_DARK],
];
const ROW_MARKERS = [[C_DARK, C_DARK], [C_BLUE, C_BLUE], [C_BLUE, C_RED], [C_BLUE, C_DARK], [C_RED, C_RED]];

export default function App() {
  const barLegendY = [13, 24.3, 35.6, 46.9, 58.2];
  return (
    <div style={{ position: 'absolute', left: 0, top: 0, width: 643, height: 1000, overflow: 'hidden', background: '#fff', fontFamily: FONT, color: '#222' }}>
      {/* panel a */}
      <Letter x={3} y={-2} c="a" />
      <ChartBox x={20} y={30} w={160} h={127} build={barConfig} />
      <VTxt x={38} y={78} s={9.5}>Number of Readers</VTxt>
      {barCategories.map((c, i) => (
        <React.Fragment key={c}>
          <Sq x={163} y={barLegendY[i]} c={barColors[i]} bc={i === 4 ? '#777' : '#444'} />
          <Txt x={180} y={barLegendY[i] + 5.5} s={8.5}>{c}</Txt>
        </React.Fragment>
      ))}

      {/* panel b */}
      <Letter x={251} y={-1} c="b" />
      <ChartBox x={250} y={0} w={393} h={185} build={vennConfig} />
      <Sq x={312} y={24} s={10} c={C_GRAY} bc="#999" />
      <Txt x={325} y={29} s={8}>{vennSetNames[1]}</Txt>
      <Sq x={404} y={12.5} s={10} c="#fff" bc="#555" />
      <Txt x={417} y={17.5} s={8}>{vennSetNames[3]}</Txt>
      <Txt x={543} y={88.5} s={8}>{vennSetNames[4]}</Txt>
      <Sq x={577} y={83} s={10} c={C_BLUE} bc={C_BLUE} />
      <Txt x={540} y={154} s={8}>{vennSetNames[2]}</Txt>
      <Sq x={571} y={149} s={10} c={C_RED} bc={C_RED} />
      <Sq x={269} y={161} s={10} c={C_DARK} bc={C_DARK} />
      <Txt x={284} y={166} s={8}>{vennSetNames[0]}</Txt>

      {/* panels c-f letters */}
      <Letter x={5} y={191.5} c="c" />
      <Letter x={209} y={191} c="d" />
      <Letter x={433} y={191} c="e" />
      <Letter x={8} y={553} c="f" />
      <Letter x={7} y={738.5} c="g" />

      {/* c legend */}
      <Dot x={81} y={204} c={C_DARK} />
      <Dot x={81} y={213} c={C_RED} />
      <Dot x={81} y={222} c={C_BLUE} />
      <Txt x={88} y={204} s={9.5}>C</Txt>
      <Txt x={87} y={213} s={9.5}>mC</Txt>
      <Txt x={87} y={222} s={9.5}>hmC</Txt>
      <svg style={{ position: 'absolute', left: 0, top: 195 }} width={100} height={45}>
        <polyline points="46.5,18 49.5,18 49.5,35 46.5,35" fill="none" stroke="#555" strokeWidth={0.8} />
        <line x1={49.5} y1={26.5} x2={70} y2={15.5} stroke="#555" strokeWidth={0.8} />
      </svg>

      {VOLCANOS.map((s, i) => <Volcano key={i} {...s} />)}
      {ICONS.map((p, i) => <Pair key={i} x={p[0]} y={p[1]} a={p[2]} b={p[3]} />)}

      <SigTitle x={13} y={372} />
      <SigTitle x={225} y={372} />
      <SigTitle x={457} y={372} />
      <SigTitle x={12} y={647} />
      <FoldTitle x={114} y={535} />
      <FoldTitle x={332} y={535} />
      <FoldTitle x={552} y={535} />
      <FoldTitle x={114} y={723} />
      <FoldTitle x={327} y={723} />
      <FoldTitle x={555} y={723} />

      {/* panel g */}
      <ChartBox x={45} y={754} w={66} h={166} build={() => dendroConfig(rowTree, false, [-11, 187], [-0.5, 24.5], true, true)} />
      <ChartBox x={133} y={754} w={355} h={200} build={heatConfig} />
      <ChartBox x={133} y={948} w={355} h={52} build={() => dendroConfig(colTree, true, [-0.5, 29.5], [-6, 154], false, true)} />
      {ROW_MARKERS.map((m, g) => (
        <Pair key={g} x={114.5} y={754 + (5 * g + 2.5) * 6.64 - 4.25} a={m[0]} b={m[1]} />
      ))}
      <div style={{ position: 'absolute', left: 128, top: 747, width: 4, height: 5, borderTop: '1px solid #333', borderLeft: '1px solid #333' }} />
      <Txt x={137} y={746} s={8}>tech. replicates</Txt>
      <VTxt x={126} y={770} s={6.5}><span style={{ letterSpacing: 1.7 }}>12345</span></VTxt>
      <div style={{ position: 'absolute', left: 502, top: 795, width: 7, height: 58, boxSizing: 'border-box', border: '0.5px solid #999', background: 'linear-gradient(to bottom, rgb(84,150,145), #ffffff 50%, rgb(100,74,50))' }} />
      <VTxt x={505} y={773} s={9}>enriched</VTxt>
      <VTxt x={505} y={878} s={9}>depleted</VTxt>
    </div>
  );
}
